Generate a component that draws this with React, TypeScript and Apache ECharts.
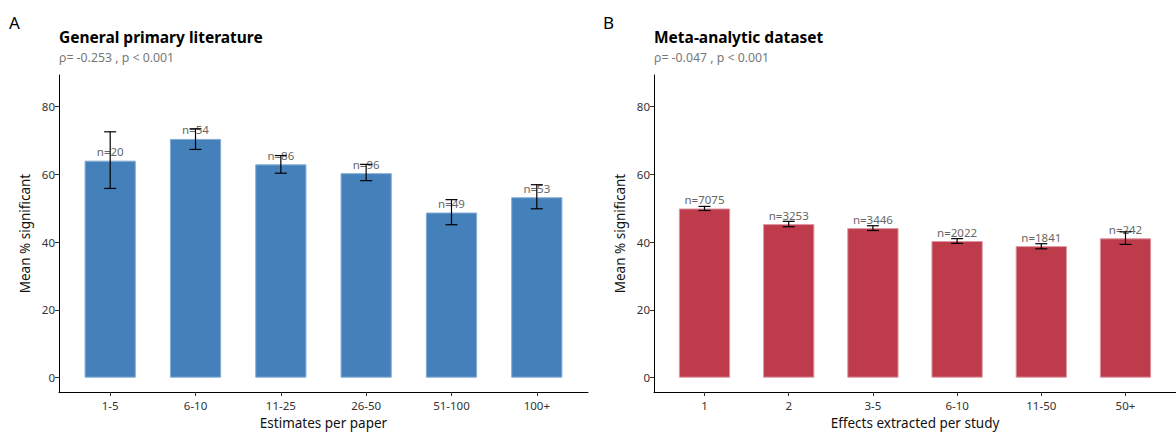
import React, { useEffect, useRef } from "react";
import * as echarts from "echarts";

const categoriesA = ["1-5", "6-10", "11-25", "26-50", "51-100", "100+"];
const meanA = [64.0, 70.4, 62.9, 60.3, 48.7, 53.2];
const lowA = [55.8, 67.3, 60.3, 58.1, 45.1, 49.8];
const highA = [72.5, 73.4, 65.5, 62.9, 52.5, 56.9];
const countA = [20, 54, 86, 96, 49, 53];

const categoriesB = ["1", "2", "3-5", "6-10", "11-50", "50+"];
const meanB = [49.9, 45.3, 44.1, 40.3, 38.8, 41.1];
const lowB = [49.3, 44.5, 43.4, 39.6, 38.0, 39.3];
const highB = [50.5, 46.1, 44.8, 41.0, 39.5, 43.0];
const countB = [7075, 3253, 3446, 2022, 1841, 242];

const yTicks = [0, 20, 40, 60, 80];

const FONT = "Noto Sans";

export default function App() {
  const ref = useRef<HTMLDivElement>(null);

  useEffect(() => {
    const chart = echarts.init(ref.current!, null, { renderer: "svg" });

    const gridW = [529, 530];
    const gridTop = 75;
    const gridH = 324;
    const positions = (cats: string[]) => cats.map((_, i) => i + 1);

    const makeX = (gi: number, cats: string[], name: string) => ({
      type: "value",
      gridIndex: gi,
      min: 0.4,
      max: 6.6,
      axisLine: { show: true, onZero: false, lineStyle: { color: "#000", width: 1 } },
      axisTick: { show: true, customValues: positions(cats), length: 4, lineStyle: { color: "#333" } },
      axisLabel: {
        customValues: positions(cats),
        formatter: (v: number) => cats[Math.round(v) - 1] ?? "",
        margin: 7,
        fontSize: 11.5,
        color: "#333",
        fontFamily: FONT,
      },
      splitLine: { show: false },
      name,
      nameLocation: "middle",
      nameGap: 23,
      nameTextStyle: { fontSize: 13.5, color: "#111", fontFamily: FONT },
    });

    const makeY = (gi: number) => ({
      type: "value",
      gridIndex: gi,
      min: -4.25,
      max: 89.25,
      axisLine: { show: true, onZero: false, lineStyle: { color: "#000", width: 1 } },
      axisTick: { show: true, customValues: yTicks, length: 4, lineStyle: { color: "#333" } },
      axisLabel: { customValues: yTicks, margin: 4, fontSize: 11.5, color: "#333", fontFamily: FONT },
      splitLine: { show: false },
      name: "Mean % significant",
      nameLocation: "middle",
      nameGap: 27,
      nameRotate: 90,
      nameTextStyle: { fontSize: 13.5, color: "#111", fontFamily: FONT },
    });

    const barSeries = (gi: number, means: number[], counts: number[], color: string, border: string) => ({
      type: "bar",
      xAxisIndex: gi,
      yAxisIndex: gi,
      data: means.map((m, i) => [i + 1, m]),
      barWidth: (gridW[gi] / 6.2) * 0.6,
      itemStyle: { color, borderColor: border, borderWidth: 1 },
      label: {
        show: true,
        position: "top",
        distance: 3,
        formatter: (p: any) => "n=" + counts[p.dataIndex],
        fontSize: 11.5,
        color: "#666",
        fontFamily: FONT,
      },
      z: 2,
    });

    const errSeries = (gi: number, lows: number[], highs: number[]) => ({
      type: "custom",
      xAxisIndex: gi,
      yAxisIndex: gi,
      data: lows.map((l, i) => [i + 1, l, highs[i]]),
      encode: { x: 0, y: [1, 2] },
      z: 5,
      renderItem: (params: any, api: any) => {
        const x = api.value(0);
        const top = api.coord([x, api.value(2)]);
        const bot = api.coord([x, api.value(1)]);
        const hw = 6;
        const st = { stroke: "#000", lineWidth: 1.2 };
        return {
          type: "group",
          children: [
            { type: "line", shape: { x1: top[0], y1: top[1], x2: bot[0], y2: bot[1] }, style: st },
            { type: "line", shape: { x1: top[0] - hw, y1: top[1], x2: top[0] + hw, y2: top[1] }, style: st },
            { type: "line", shape: { x1: bot[0] - hw, y1: bot[1], x2: bot[0] + hw, y2: bot[1] }, style: st },
          ],
        };
      },
    });

    const text = (x: number, y: number, t: string, size: number, weight: string, color: string) => ({
      type: "text",
      x,
      y,
      style: { text: t, fontSize: size, fontWeight: weight, fill: color, fontFamily: FONT, verticalAlign: "middle", align: "left" },
    });

    chart.setOption({
      animation: false,
      backgroundColor: "#fff",
      grid: [
        { left: 59, top: gridTop, width: gridW[0], height: gridH },
        { left: 654, top: gridTop, width: gridW[1], height: gridH },
      ],
      xAxis: [makeX(0, categoriesA, "Estimates per paper"), makeX(1, categoriesB, "Effects extracted per study")],
      yAxis: [makeY(0), makeY(1)],
      series: [
        barSeries(0, meanA, countA, "#4480B9", "#86ABD3"),
        errSeries(0, lowA, highA),
        barSeries(1, meanB, countB, "#BE3B4C", "#DC98A1"),
        errSeries(1, lowB, highB),
      ],
      graphic: [
        text(9, 22, "A", 17, "normal", "#000"),
        text(59, 36.5, "General primary literature", 15.5, "bold", "#000"),
        text(59, 57.5, "ρ= -0.253 , p < 0.001", 12.3, "normal", "#777"),
        text(603, 22, "B", 17, "normal", "#000"),
        text(654, 36.5, "Meta-analytic dataset", 15.5, "bold", "#000"),
        text(654, 57.5, "ρ= -0.047 , p < 0.001", 12.3, "normal", "#777"),
      ],
    });

    return () => chart.dispose();
  }, []);

  return (
    <div style={{ position: "absolute", left: 0, top: 0, width: 1176, height: 435, overflow: "hidden", background: "#fff" }}>
      <div ref={ref} style={{ width: 1176, height: 435 }} />
    </div>
  );
}
